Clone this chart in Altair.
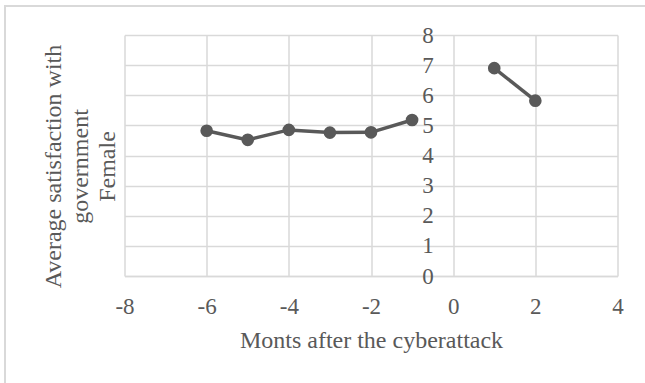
import altair as alt
import pandas as pd

# Monthly averages, female respondents
months = [-6, -5, -4, -3, -2, -1, 1, 2]
satisfaction = [4.82, 4.52, 4.85, 4.76, 4.77, 5.18, 6.90, 5.82]
period = ["before", "before", "before", "before", "before", "before", "after", "after"]

x_ticks = [-8, -6, -4, -2, 0, 2, 4]
y_ticks = [0, 1, 2, 3, 4, 5, 6, 7, 8]

FONT = "Liberation Serif"
TEXT = "#595959"
GRID = "#d9d9d9"
SERIES = "#595959"

df = pd.DataFrame({"month": months, "value": satisfaction, "period": period})

x_enc = alt.X(
    "month:Q",
    scale=alt.Scale(domain=[-8, 4], nice=False, zero=False),
    axis=alt.Axis(
        values=x_ticks,
        labelExpr="datum.value + ''",
        title="Monts after the cyberattack",
        titleFont=FONT,
        titleFontSize=24,
        titleFontWeight="normal",
        titleColor=TEXT,
        titleX=246.5,
        titleY=71,
        titleAlign="center",
        titleBaseline="alphabetic",
        labelFont=FONT,
        labelFontSize=23,
        labelColor=TEXT,
        labelPadding=19,
        labelFlush=False,
        labelOverlap=False,
        ticks=False,
        domainColor=GRID,
        domainWidth=1.5,
        grid=True,
        gridColor=GRID,
        gridWidth=1.5,
    ),
)

y_enc = alt.Y(
    "value:Q",
    scale=alt.Scale(domain=[0, 8], nice=False),
    axis=alt.Axis(
        values=y_ticks,
        offset=-328.8,
        domain=False,
        ticks=False,
        labelFont=FONT,
        labelFontSize=23,
        labelColor=TEXT,
        labelPadding=20,
        labelFlush=False,
        labelOverlap=False,
        grid=True,
        gridColor=GRID,
        gridWidth=1.5,
        title=["Average satisfaction with", "government", "Female"],
        titleFont=FONT,
        titleFontSize=24,
        titleFontWeight="normal",
        titleColor=TEXT,
        titleAngle=270,
        titleAlign="center",
        titleBaseline="middle",
        titleLineHeight=27,
        titleX=-400,
        titleY=131,
    ),
)

base = alt.Chart(df).encode(x=x_enc, y=y_enc, detail="period:N")

line = base.mark_line(color=SERIES, strokeWidth=3.5)
dots = base.mark_circle(color=SERIES, size=160, opacity=1)

# Light frame around the whole chart area
frame = alt.Chart(pd.DataFrame({"k": [0]})).mark_rect(
    fill=None, stroke=GRID, strokeWidth=2
).encode(
    x=alt.value(-119.5),
    x2=alt.value(540),
    y=alt.value(-29),
    y2=alt.value(360),
)

chart = (
    alt.layer(frame, line, dots)
    .properties(
        width=493,
        height=241,
        autosize=alt.AutoSizeParams(type="none"),
        padding={"left": 124.5, "top": 35, "right": 27.5, "bottom": 107},
        background="white",
    )
    .configure_view(stroke=None)
)

chart.save("out.html", embed_options={"renderer": "svg", "actions": False})
